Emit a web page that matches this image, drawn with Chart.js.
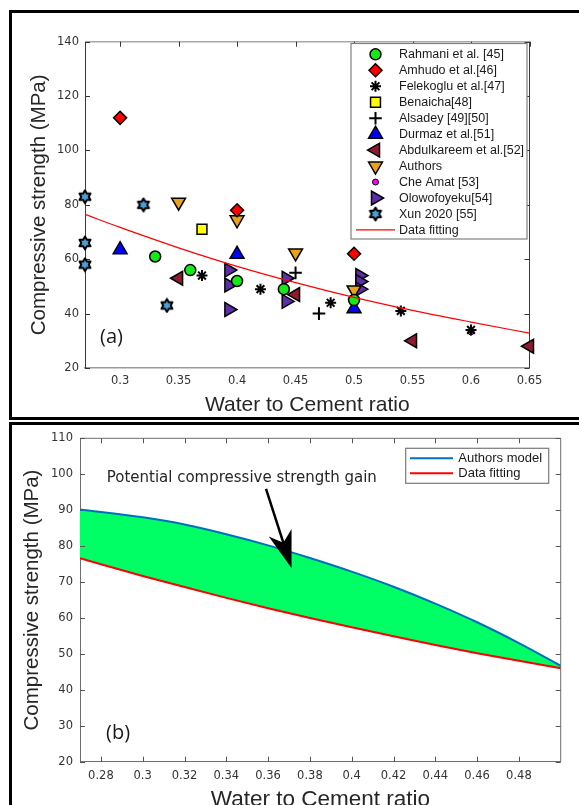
<!DOCTYPE html>
<html><head><meta charset="utf-8">
<script src="https://cdn.jsdelivr.net/npm/chart.js@4.4.1/dist/chart.umd.min.js"></script>
<style>
html,body{margin:0;padding:0;background:#fff;overflow:hidden;width:579px;height:805px}
#c1{position:absolute;left:0;top:0}
#c2{position:absolute;left:0;top:420px}
.frame{position:absolute;border:3px solid #000;box-sizing:border-box;pointer-events:none;z-index:3}
</style></head>
<body>
<canvas id="c1" width="579" height="420"></canvas>
<canvas id="c2" width="579" height="400"></canvas>
<div class="frame" style="left:9px;top:10px;width:620px;height:410px"></div>
<div class="frame" style="left:9px;top:422px;width:620px;height:430px"></div>
<script>
// ---------- Panel (a) data ----------
const seriesLabels = ['Rahmani et al. [45]','Amhudo et al.[46]','Felekoglu et al.[47]','Benaicha[48]','Alsadey [49][50]','Durmaz et al.[51]','Abdulkareem et al.[52]','Authors','Che Amat [53]','Olowofoyeku[54]','Xun 2020 [55]','Data fitting'];
const rahmaniX = [0.33, 0.36, 0.40, 0.44, 0.50];
const rahmaniY = [61, 56, 52, 49, 45];
const amhudoX = [0.30, 0.40, 0.50];
const amhudoY = [112, 78, 62];
const felekogluX = [0.37, 0.42, 0.48, 0.54, 0.60];
const felekogluY = [54, 49, 44, 41, 34];
const benaichaX = [0.37];
const benaichaY = [71];
const alsadeyX = [0.45, 0.47];
const alsadeyY = [55, 40];
const durmazX = [0.30, 0.40, 0.50];
const durmazY = [63.5, 61.8, 41.8];
const abdulkareemX = [0.35, 0.45, 0.55, 0.65];
const abdulkareemY = [53, 47, 30, 28];
const authorsX = [0.35, 0.40, 0.45, 0.50];
const authorsY = [81, 74.5, 62.3, 48.7];
const cheAmatX = [0.60];
const cheAmatY = [33.3];
const olowofoyekuX = [0.393, 0.393, 0.393, 0.442, 0.442, 0.505, 0.505, 0.505];
const olowofoyekuY = [56, 50.5, 41.5, 53, 44.5, 54, 51.8, 49];
const xunX = [0.27, 0.27, 0.27, 0.32, 0.34];
const xunY = [83, 66, 58, 80, 43];
const fitAX = [0.27, 0.30, 0.35, 0.40, 0.45, 0.50, 0.55, 0.60, 0.65];
const fitAY = [76.5, 71.7, 64.2, 57.4, 51.4, 46.0, 41.2, 36.9, 32.8];
const xTicksA = [0.3, 0.35, 0.4, 0.45, 0.5, 0.55, 0.6, 0.65];
const yTicksA = [20, 40, 60, 80, 100, 120, 140];

// ---------- Panel (b) data ----------
const bLabels = ['Authors model', 'Data fitting'];
const bX = [0.27, 0.30, 0.32, 0.34, 0.36, 0.38, 0.40, 0.42, 0.44, 0.46, 0.48, 0.50];
const authorsModelY = [90.2, 88.0, 86.0, 83.3, 80.2, 76.7, 72.9, 68.7, 64.0, 58.8, 53.0, 46.7];
const dataFittingY = [76.6, 71.7, 68.6, 65.6, 62.7, 60.0, 57.4, 54.9, 52.5, 50.2, 48.1, 46.0];
const xTicksB = [0.28, 0.3, 0.32, 0.34, 0.36, 0.38, 0.4, 0.42, 0.44, 0.46, 0.48];
const yTicksB = [20, 30, 40, 50, 60, 70, 80, 90, 100, 110];
const annotationText = 'Potential compressive strength gain';
const arrowFrom = {x: 0.359, y: 95.9};
const arrowTo = {x: 0.3712, y: 73.9};

// ---------- helpers ----------
function pts(xs, ys) { return xs.map((x, i) => ({x: x, y: ys[i]})); }
function hexagram(size, fill) {
  const c = document.createElement('canvas'); c.width = c.height = size;
  const g = c.getContext('2d'); const cx = size / 2, cy = size / 2, R = size / 2 - 1.6, r = R / Math.sqrt(3);
  g.beginPath();
  for (let i = 0; i < 12; i++) {
    const ang = -Math.PI / 2 + i * Math.PI / 6; const rr = i % 2 === 0 ? R : r;
    g.lineTo(cx + rr * Math.cos(ang), cy + rr * Math.sin(ang));
  }
  g.closePath(); g.fillStyle = fill; g.fill(); g.lineWidth = 2; g.strokeStyle = '#000'; g.lineJoin = 'round'; g.stroke();
  return c;
}
const hexImg = hexagram(16, '#4a9fd6');

const seriesData = [
  [rahmaniX, rahmaniY], [amhudoX, amhudoY], [felekogluX, felekogluY], [benaichaX, benaichaY],
  [alsadeyX, alsadeyY], [durmazX, durmazY], [abdulkareemX, abdulkareemY], [authorsX, authorsY],
  [cheAmatX, cheAmatY], [olowofoyekuX, olowofoyekuY], [xunX, xunY]
];
const seriesStyles = [
  {ps: 'circle', r: 5.5, bg: '#16ea16', bw: 1.5, rot: 0},
  {ps: 'rectRot', r: 6.5, bg: '#ff0000', bw: 1.5, rot: 0},
  {ps: 'star', r: 5.5, bg: '#000', bw: 2, rot: 0},
  {ps: 'rect', r: 7, bg: '#ffff00', bw: 1.5, rot: 0},
  {ps: 'cross', r: 6.3, bg: '#000', bw: 2, rot: 0},
  {ps: 'triangle', r: 8, bg: '#0000ff', bw: 1.5, rot: 0},
  {ps: 'triangle', r: 8, bg: '#8e1b2e', bw: 1.5, rot: -90},
  {ps: 'triangle', r: 8, bg: '#eba21a', bw: 1.5, rot: 180},
  {ps: 'circle', r: 3, bg: '#ff00ff', bw: 1, rot: 0},
  {ps: 'triangle', r: 8, bg: '#5e2ea8', bw: 1.5, rot: 90},
  {ps: hexImg, r: 7, bg: '#4a9fd6', bw: 0, rot: 0}
];

const datasetsA = seriesData.map((s, i) => ({
  label: seriesLabels[i], data: pts(s[0], s[1]), showLine: false, clip: false,
  pointStyle: seriesStyles[i].ps, pointRadius: seriesStyles[i].r, pointRotation: seriesStyles[i].rot,
  pointBackgroundColor: seriesStyles[i].bg, pointBorderColor: '#000', pointBorderWidth: seriesStyles[i].bw,
  backgroundColor: seriesStyles[i].bg, borderColor: '#000'
}));
datasetsA.push({
  type: 'line', label: seriesLabels[11], data: pts(fitAX, fitAY), borderColor: '#ff0000', borderWidth: 1.2,
  pointRadius: 0, fill: false, cubicInterpolationMode: 'monotone', order: -1
});

function framePlugin(cfg) {
  return {
    id: 'frame_' + cfg.name,
    beforeDatasetsDraw(chart) {
      const {ctx, chartArea: a, scales: {x, y}} = chart;
      ctx.save();
      ctx.lineWidth = cfg.topWidth; ctx.strokeStyle = cfg.topColor;
      ctx.beginPath(); ctx.moveTo(a.left, a.top); ctx.lineTo(a.right, a.top); ctx.stroke();
      ctx.lineWidth = cfg.rightWidth; ctx.strokeStyle = cfg.rightColor;
      ctx.beginPath(); ctx.moveTo(a.right, a.top); ctx.lineTo(a.right, a.bottom); ctx.stroke();
      ctx.strokeStyle = cfg.tickColor; ctx.lineWidth = 1;
      const L = cfg.tickLen;
      x.ticks.forEach(t => {
        const px = Math.round(x.getPixelForValue(t.value)) + 0.5;
        ctx.beginPath(); ctx.moveTo(px, a.top); ctx.lineTo(px, a.top + L); ctx.stroke();
        if (cfg.bottomTicks) { ctx.beginPath(); ctx.moveTo(px, a.bottom); ctx.lineTo(px, a.bottom - L); ctx.stroke(); }
      });
      y.ticks.forEach(t => {
        const py = Math.round(y.getPixelForValue(t.value)) + 0.5;
        ctx.beginPath(); ctx.moveTo(a.left, py); ctx.lineTo(a.left + L, py); ctx.stroke();
        ctx.beginPath(); ctx.moveTo(a.right, py); ctx.lineTo(a.right - L, py); ctx.stroke();
      });
      ctx.restore();
    }
  };
}

const legendA = {
  id: 'legendA',
  afterDatasetsDraw(chart) {
    const ctx = chart.ctx;
    ctx.save();
    const bx = 351, by = 43.5, bw = 176, bh = 195.5;
    ctx.fillStyle = '#fff'; ctx.fillRect(bx, by, bw, bh);
    ctx.strokeStyle = '#808080'; ctx.lineWidth = 1.2; ctx.strokeRect(bx, by, bw, bh);
    ctx.font = '12.5px "Liberation Sans", Arial, sans-serif'; ctx.textBaseline = 'middle'; ctx.textAlign = 'left';
    chart.data.datasets.forEach((ds, i) => {
      const yy = 54.3 + i * 15.97;
      if (ds.type === 'line') {
        ctx.strokeStyle = ds.borderColor; ctx.lineWidth = ds.borderWidth;
        ctx.beginPath(); ctx.moveTo(356, yy); ctx.lineTo(395, yy); ctx.stroke();
      } else {
        ctx.save();
        ctx.fillStyle = ds.pointBackgroundColor; ctx.strokeStyle = ds.pointBorderColor; ctx.lineWidth = ds.pointBorderWidth;
        Chart.helpers.drawPoint(ctx, {pointStyle: ds.pointStyle, radius: ds.pointRadius, rotation: ds.pointRotation, borderWidth: ds.pointBorderWidth}, 375.5, yy);
        ctx.restore();
      }
      ctx.fillStyle = '#1a1a1a'; ctx.fillText(ds.label, 399, yy + 0.5);
    });
    ctx.restore();
  }
};

const panelLabelA = {
  id: 'panelLabelA',
  afterDraw(chart) {
    const ctx = chart.ctx; ctx.save();
    ctx.font = '20px "Open Sans", sans-serif'; ctx.fillStyle = '#1a1a1a'; ctx.textBaseline = 'alphabetic'; ctx.textAlign = 'left';
    ctx.fillText('(a)', 100, 342.5);
    ctx.restore();
  }
};

const tickFont = {family: '"DejaVu Sans", sans-serif', size: 11.5};
const titleFont = (s) => ({family: '"Liberation Sans", Arial, sans-serif', size: s});

new Chart(document.getElementById('c1'), {
  type: 'scatter',
  data: {datasets: datasetsA},
  options: {
    responsive: false, animation: false, events: [],
    layout: {padding: {top: 41.7, right: 49.5, left: 0, bottom: 0}},
    plugins: {legend: {display: false}, tooltip: {enabled: false}},
    scales: {
      x: {
        type: 'linear', min: 0.27, max: 0.65,
        afterBuildTicks: s => { s.ticks = xTicksA.map(v => ({value: v})); },
        afterFit: s => { s.height = 52; },
        ticks: {font: tickFont, color: '#333', padding: 6, maxRotation: 0, autoSkip: false, callback: v => String(v)},
        grid: {display: false, drawTicks: false},
        border: {display: true, color: '#9b9b9b', width: 1.5},
        title: {display: true, text: 'Water to Cement ratio', font: titleFont(21), color: '#262626', padding: {top: 0, bottom: 1.7}}
      },
      y: {
        type: 'linear', min: 20, max: 140,
        afterBuildTicks: s => { s.ticks = yTicksA.map(v => ({value: v})); },
        afterFit: s => { s.width = 85; },
        ticks: {font: tickFont, color: '#333', padding: 6, autoSkip: false, callback: v => String(v)},
        grid: {display: false, drawTicks: false},
        border: {display: true, color: '#3c3c3c', width: 1},
        title: {display: true, text: 'Compressive strength (MPa)', font: titleFont(20.5), color: '#262626', padding: {top: 27.2, bottom: 0}}
      }
    }
  },
  plugins: [framePlugin({name: 'a', topColor: '#a8a8a8', topWidth: 1.5, rightColor: '#3c3c3c', rightWidth: 1, tickColor: '#333', tickLen: 5, bottomTicks: false}), legendA, panelLabelA]
});

// ---------- Panel (b) ----------
const bColors = ['#0072bd', '#ff0000'];
const legendB = {
  id: 'legendB',
  afterDatasetsDraw(chart) {
    const ctx = chart.ctx; ctx.save();
    const bx = 405.7, by = 28.3, bw = 143, bh = 35;
    ctx.fillStyle = '#fff'; ctx.fillRect(bx, by, bw, bh);
    ctx.strokeStyle = '#7a7a7a'; ctx.lineWidth = 1.2; ctx.strokeRect(bx, by, bw, bh);
    ctx.font = '13px "Liberation Sans", Arial, sans-serif'; ctx.textBaseline = 'middle'; ctx.textAlign = 'left';
    chart.data.datasets.forEach((ds, i) => {
      const yy = 38.3 + i * 15;
      ctx.strokeStyle = ds.borderColor; ctx.lineWidth = 2;
      ctx.beginPath(); ctx.moveTo(410, yy); ctx.lineTo(453, yy); ctx.stroke();
      ctx.fillStyle = '#1a1a1a'; ctx.fillText(ds.label, 458.3, yy + 0.5);
    });
    ctx.restore();
  }
};
const annotB = {
  id: 'annotB',
  afterDraw(chart) {
    const {ctx, scales: {x, y}} = chart;
    ctx.save();
    ctx.font = '15px "DejaVu Sans", sans-serif'; ctx.fillStyle = '#262626'; ctx.textBaseline = 'alphabetic'; ctx.textAlign = 'left';
    ctx.fillText(annotationText, 106.7, 62.3);
    ctx.font = '20px "Open Sans", sans-serif'; ctx.fillStyle = '#1a1a1a';
    ctx.fillText('(b)', 106, 319);
    // arrow
    const x0 = x.getPixelForValue(arrowFrom.x), y0 = y.getPixelForValue(arrowFrom.y);
    const x1 = x.getPixelForValue(arrowTo.x), y1 = y.getPixelForValue(arrowTo.y);
    const dx = x1 - x0, dy = y1 - y0, len = Math.hypot(dx, dy), ux = dx / len, uy = dy / len, nx = uy, ny = -ux;
    const L = 37, W = 12;
    ctx.strokeStyle = '#000'; ctx.lineWidth = 2.5;
    ctx.beginPath(); ctx.moveTo(x0, y0); ctx.lineTo(x1 - ux * L * 0.7, y1 - uy * L * 0.7); ctx.stroke();
    ctx.fillStyle = '#000';
    ctx.beginPath();
    ctx.moveTo(x1, y1);
    ctx.lineTo(x1 - ux * L + nx * W, y1 - uy * L + ny * W);
    ctx.lineTo(x1 - ux * L * 0.72, y1 - uy * L * 0.72);
    ctx.lineTo(x1 - ux * L - nx * W, y1 - uy * L - ny * W);
    ctx.closePath(); ctx.fill();
    ctx.restore();
  }
};

new Chart(document.getElementById('c2'), {
  type: 'line',
  data: {datasets: [
    {label: bLabels[0], data: pts(bX, authorsModelY), borderColor: bColors[0], borderWidth: 2, pointRadius: 0, fill: '+1', backgroundColor: '#00ff64', cubicInterpolationMode: 'monotone'},
    {label: bLabels[1], data: pts(bX, dataFittingY), borderColor: bColors[1], borderWidth: 2, pointRadius: 0, fill: false, cubicInterpolationMode: 'monotone'}
  ]},
  options: {
    responsive: false, animation: false, events: [],
    layout: {padding: {top: 18.3, right: 18.3, left: 0, bottom: 0}},
    plugins: {legend: {display: false}, tooltip: {enabled: false}, filler: {drawTime: 'beforeDatasetsDraw'}},
    scales: {
      x: {
        type: 'linear', min: 0.27, max: 0.5,
        afterBuildTicks: s => { s.ticks = xTicksB.map(v => ({value: v})); },
        afterFit: s => { s.height = 58.3; },
        ticks: {font: tickFont, color: '#333', padding: 7, maxRotation: 0, autoSkip: false, callback: v => String(v)},
        grid: {display: false, drawTicks: false},
        border: {display: true, color: '#6e6e6e', width: 1},
        title: {display: true, text: 'Water to Cement ratio', font: titleFont(22.5), color: '#262626', padding: {top: 0, bottom: 6.3}}
      },
      y: {
        type: 'linear', min: 20, max: 110,
        afterBuildTicks: s => { s.ticks = yTicksB.map(v => ({value: v})); },
        afterFit: s => { s.width = 80; },
        ticks: {font: tickFont, color: '#333', padding: 7, autoSkip: false, callback: v => String(v)},
        grid: {display: false, drawTicks: false},
        border: {display: true, color: '#6e6e6e', width: 1},
        title: {display: true, text: 'Compressive strength (MPa)', font: titleFont(20.5), color: '#262626', padding: {top: 20.5, bottom: 0}}
      }
    }
  },
  plugins: [framePlugin({name: 'b', topColor: '#6e6e6e', topWidth: 1, rightColor: '#6e6e6e', rightWidth: 1, tickColor: '#555', tickLen: 5, bottomTicks: true}), legendB, annotB]
});
</script>
</body></html>
